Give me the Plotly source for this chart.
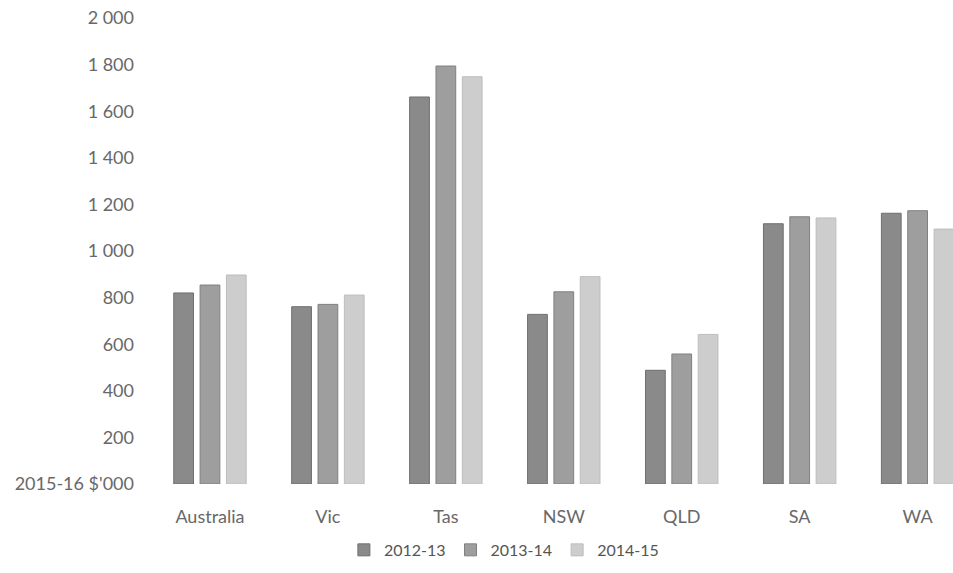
import plotly.graph_objects as go

# Categories and series values (2015-16 $'000)
regions = ["Australia", "Vic", "Tas", "NSW", "QLD", "SA", "WA"]
series_names = ["2012-13", "2013-14", "2014-15"]
values_2012_13 = [820, 761, 1661, 728, 488, 1117, 1162]
values_2013_14 = [854, 771, 1794, 825, 558, 1147, 1173]
values_2014_15 = [897, 811, 1748, 890, 642, 1142, 1094]

y_tick_vals = [0, 200, 400, 600, 800, 1000, 1200, 1400, 1600, 1800, 2000]
y_tick_text = ["2015-16 $'000", "200", "400", "600", "800", "1 000",
               "1 200", "1 400", "1 600", "1 800", "2 000"]

colors = ["#8a8a8a", "#9e9e9e", "#cdcdcd"]
edge_colors = ["#6f6f6f", "#808080", "#bdbdbd"]

fig = go.Figure()
for name, vals, col, edge in zip(series_names,
                                 [values_2012_13, values_2013_14, values_2014_15],
                                 colors, edge_colors):
    fig.add_trace(go.Bar(
        x=regions, y=vals, name=name,
        marker=dict(color=col, line=dict(color=edge, width=1)),
    ))

font_family = "Lato, Open Sans, sans-serif"
text_color = "#686868"

fig.update_layout(
    width=953, height=573,
    margin=dict(l=151, r=0, t=18, b=89),
    paper_bgcolor="white", plot_bgcolor="white",
    barmode="group", bargap=0.33, bargroupgap=0.25,
    font=dict(family=font_family, size=18, color=text_color),
    showlegend=True,
    legend=dict(orientation="h", x=0.44, xanchor="center", y=-0.105, yanchor="top",
                font=dict(size=16, color="#555555"), itemwidth=30,
                traceorder="normal"),
    xaxis=dict(range=[-0.5, 6.3], showgrid=False, showline=False, zeroline=False,
               ticks="", ticklabelstandoff=20,
               tickfont=dict(size=18, color=text_color)),
    yaxis=dict(range=[0, 2000], tickvals=y_tick_vals, ticktext=y_tick_text,
               showgrid=False, showline=False, zeroline=False, ticks="",
               ticklabelstandoff=16,
               tickfont=dict(size=18, color=text_color)),
)

fig.write_html("out.html")
